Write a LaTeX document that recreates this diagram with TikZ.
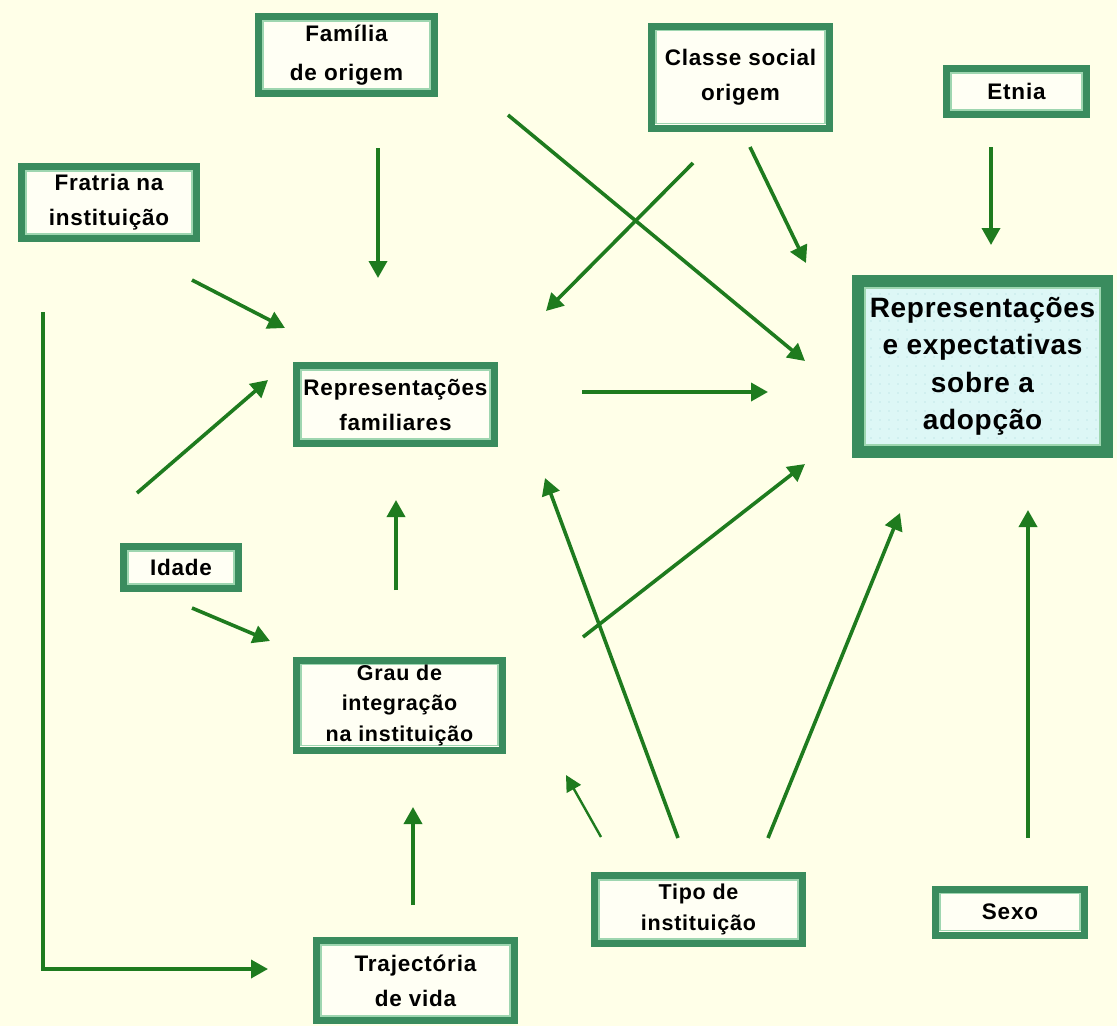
\documentclass[tikz,border=0pt]{standalone}
\usepackage{fontspec}
\setmainfont{Liberation Sans}
\newfontfamily\boxfont[LetterSpace=3.5]{Liberation Sans}
\newfontfamily\mainfont[LetterSpace=2.5]{Liberation Sans}
\usetikzlibrary{arrows.meta}
\definecolor{bgc}{HTML}{FFFFE8}
\definecolor{boxdark}{HTML}{3A8C5E}
\definecolor{boxlight}{HTML}{9ED6B0}
\definecolor{boxfill}{HTML}{FFFFF4}
\definecolor{arrowc}{HTML}{1E7B1E}
\definecolor{mainfill}{HTML}{DDF7F6}
\definecolor{dotc}{HTML}{A9D8D8}
\tikzset{
  x=1pt, y=-1pt,
  box/.style={draw=boxdark, line width=7pt, fill=boxfill, inner sep=0pt, align=center,
    font=\boxfont\bfseries\fontsize{22.5}{35}\selectfont,
    path picture={\draw[boxlight, line width=1.6pt]
      ([xshift=4.6pt,yshift=4.6pt]path picture bounding box.south west) rectangle
      ([xshift=-4.6pt,yshift=-4.6pt]path picture bounding box.north east);}},
  mainbox/.style={draw=boxdark, line width=12pt, fill=mainfill, inner sep=0pt, align=center,
    font=\mainfont\bfseries\fontsize{28}{37.5}\selectfont,
    path picture={
      \foreach \i in {0,...,30}{\foreach \j in {0,...,22}{
        \fill[dotc] ([xshift=\i*9pt+4pt,yshift=-\j*9pt-4pt]path picture bounding box.north west) circle (0.7pt);}}
      \draw[boxlight, line width=2pt]
      ([xshift=7pt,yshift=7pt]path picture bounding box.south west) rectangle
      ([xshift=-7pt,yshift=-7pt]path picture bounding box.north east);}},
  tight/.style={font=\boxfont\bfseries\fontsize{21.5}{30.5}\selectfont},
  loose/.style={font=\boxfont\bfseries\fontsize{22.5}{39}\selectfont},
  arr/.style={draw=arrowc, line width=3.6pt, -{Triangle[length=17pt,width=18pt]}},
  thinarr/.style={draw=arrowc, line width=2.4pt, -{Triangle[length=16pt,width=16pt]}}
}
\begin{document}
\begin{tikzpicture}
\fill[bgc] (0,0) rectangle (1117,1026);
\useasboundingbox (0,0) rectangle (1117,1026);

% boxes: minimum size = outer size - line width
\node[box, loose, minimum width=176pt, minimum height=77pt] (fam) at (346.5,55) {Família\\de origem};
\node[box, minimum width=178pt, minimum height=102pt] (cls) at (740.5,77) {Classe social\\origem};
\node[box, minimum width=140pt, minimum height=46pt] (etn) at (1016.5,91.5) {Etnia};
\node[box, minimum width=175pt, minimum height=72pt] (fra) at (109,202.5) {Fratria na\\instituição};
\node[box, minimum width=198pt, minimum height=78pt] (rep) at (395.5,404.5) {Representações\\familiares};
\node[mainbox, minimum width=249pt, minimum height=171pt] (main) at (982.5,366.5) {Representações\\e expectativas\\sobre a\\adopção};
\node[box, minimum width=115pt, minimum height=42pt] (ida) at (181,567.5) {Idade};
\node[box, tight, minimum width=206pt, minimum height=90pt] (gra) at (399.5,705) {Grau de\\integração\\na instituição};
\node[box, tight, minimum width=208pt, minimum height=68pt] (tip) at (698.5,909.5) {Tipo de\\instituição};
\node[box, minimum width=149pt, minimum height=46pt] (sex) at (1010,912) {Sexo};
\node[box, minimum width=198pt, minimum height=80pt] (tra) at (415.5,980.5) {Trajectória\\de vida};

% arrow end points
\coordinate (a1) at (378,148);  \coordinate (a2) at (378,278);
\coordinate (b1) at (508,115);  \coordinate (b2) at (805,361);
\coordinate (c1) at (693,163);  \coordinate (c2) at (546,311);
\coordinate (d1) at (750,147);  \coordinate (d2) at (806,263);
\coordinate (e1) at (991,147);  \coordinate (e2) at (991,245);
\coordinate (f1) at (192,280);  \coordinate (f2) at (285,328);
\coordinate (g1) at (43,312);   \coordinate (g2) at (43,969);  \coordinate (g3) at (268,969);
\coordinate (h1) at (137,493);  \coordinate (h2) at (268,380);
\coordinate (i1) at (582,392);  \coordinate (i2) at (768,392);
\coordinate (j1) at (396,590);  \coordinate (j2) at (396,500);
\coordinate (k1) at (192,608);  \coordinate (k2) at (270,641);
\coordinate (l1) at (583,637);  \coordinate (l2) at (805,464);
\coordinate (m1) at (678,838);  \coordinate (m2) at (545,478);
\coordinate (n1) at (601,837);  \coordinate (n2) at (566,775);
\coordinate (o1) at (768,838);  \coordinate (o2) at (900,513);
\coordinate (p1) at (1028,838); \coordinate (p2) at (1028,510);
\coordinate (q1) at (413,905);  \coordinate (q2) at (413,807);

\draw[arr] (a1) -- (a2);
\draw[arr] (b1) -- (b2);
\draw[arr] (c1) -- (c2);
\draw[arr] (d1) -- (d2);
\draw[arr] (e1) -- (e2);
\draw[arr] (f1) -- (f2);
\draw[arr] (g1) -- (g2) -- (g3);
\draw[arr] (h1) -- (h2);
\draw[arr] (i1) -- (i2);
\draw[arr] (j1) -- (j2);
\draw[arr] (k1) -- (k2);
\draw[arr] (l1) -- (l2);
\draw[arr] (m1) -- (m2);
\draw[thinarr] (n1) -- (n2);
\draw[arr] (o1) -- (o2);
\draw[arr] (p1) -- (p2);
\draw[arr] (q1) -- (q2);
\end{tikzpicture}
\end{document}
